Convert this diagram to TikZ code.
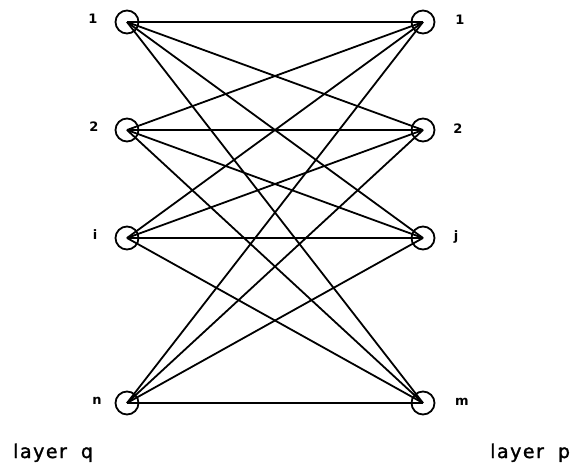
\documentclass[tikz,border=0pt]{standalone}
\usepackage{fontspec}
\setmainfont{DejaVu Sans}
\begin{document}
\begin{tikzpicture}[x=1pt,y=-1pt,
  unit/.style={circle,draw,line width=1.8pt,minimum size=23pt,inner sep=0pt},
  lbl/.style={font=\bfseries\fontsize{13}{15}\selectfont,inner sep=0pt},
  layerlbl/.style={font=\fontsize{19}{22}\selectfont\addfontfeature{LetterSpace=8,FakeBold=1.5},inner sep=0pt,anchor=base west},
  conn/.style={line width=1.8pt}]
\useasboundingbox (0,0) rectangle (578,472);
\node[unit] (q1) at (127,22) {};
\node[unit] (q2) at (127,130) {};
\node[unit] (qi) at (127,238) {};
\node[unit] (qn) at (127,403) {};
\node[unit] (p1) at (423,22) {};
\node[unit] (p2) at (423,130) {};
\node[unit] (pj) at (423,238) {};
\node[unit] (pm) at (423,403) {};
\node[lbl] (lq1) at (93,19) {1};
\node[lbl] (lq2) at (94,127) {2};
\node[lbl] (lqi) at (95,235) {i};
\node[lbl] (lqn) at (97,401) {n};
\node[lbl] (lp1) at (460,20) {1};
\node[lbl] (lp2) at (458,129) {2};
\node[lbl] (lpj) at (456,237) {j};
\node[lbl] (lpm) at (462,402) {m};
\node[layerlbl] (layq) at (13,458) {layer\hspace{14pt}q};
\node[layerlbl] (layp) at (490,458) {layer\hspace{14pt}p};
\foreach \a in {q1,q2,qi,qn}
  \foreach \b in {p1,p2,pj,pm}
    \draw[conn] (\a.center) -- (\b.center);
\end{tikzpicture}
\end{document}
